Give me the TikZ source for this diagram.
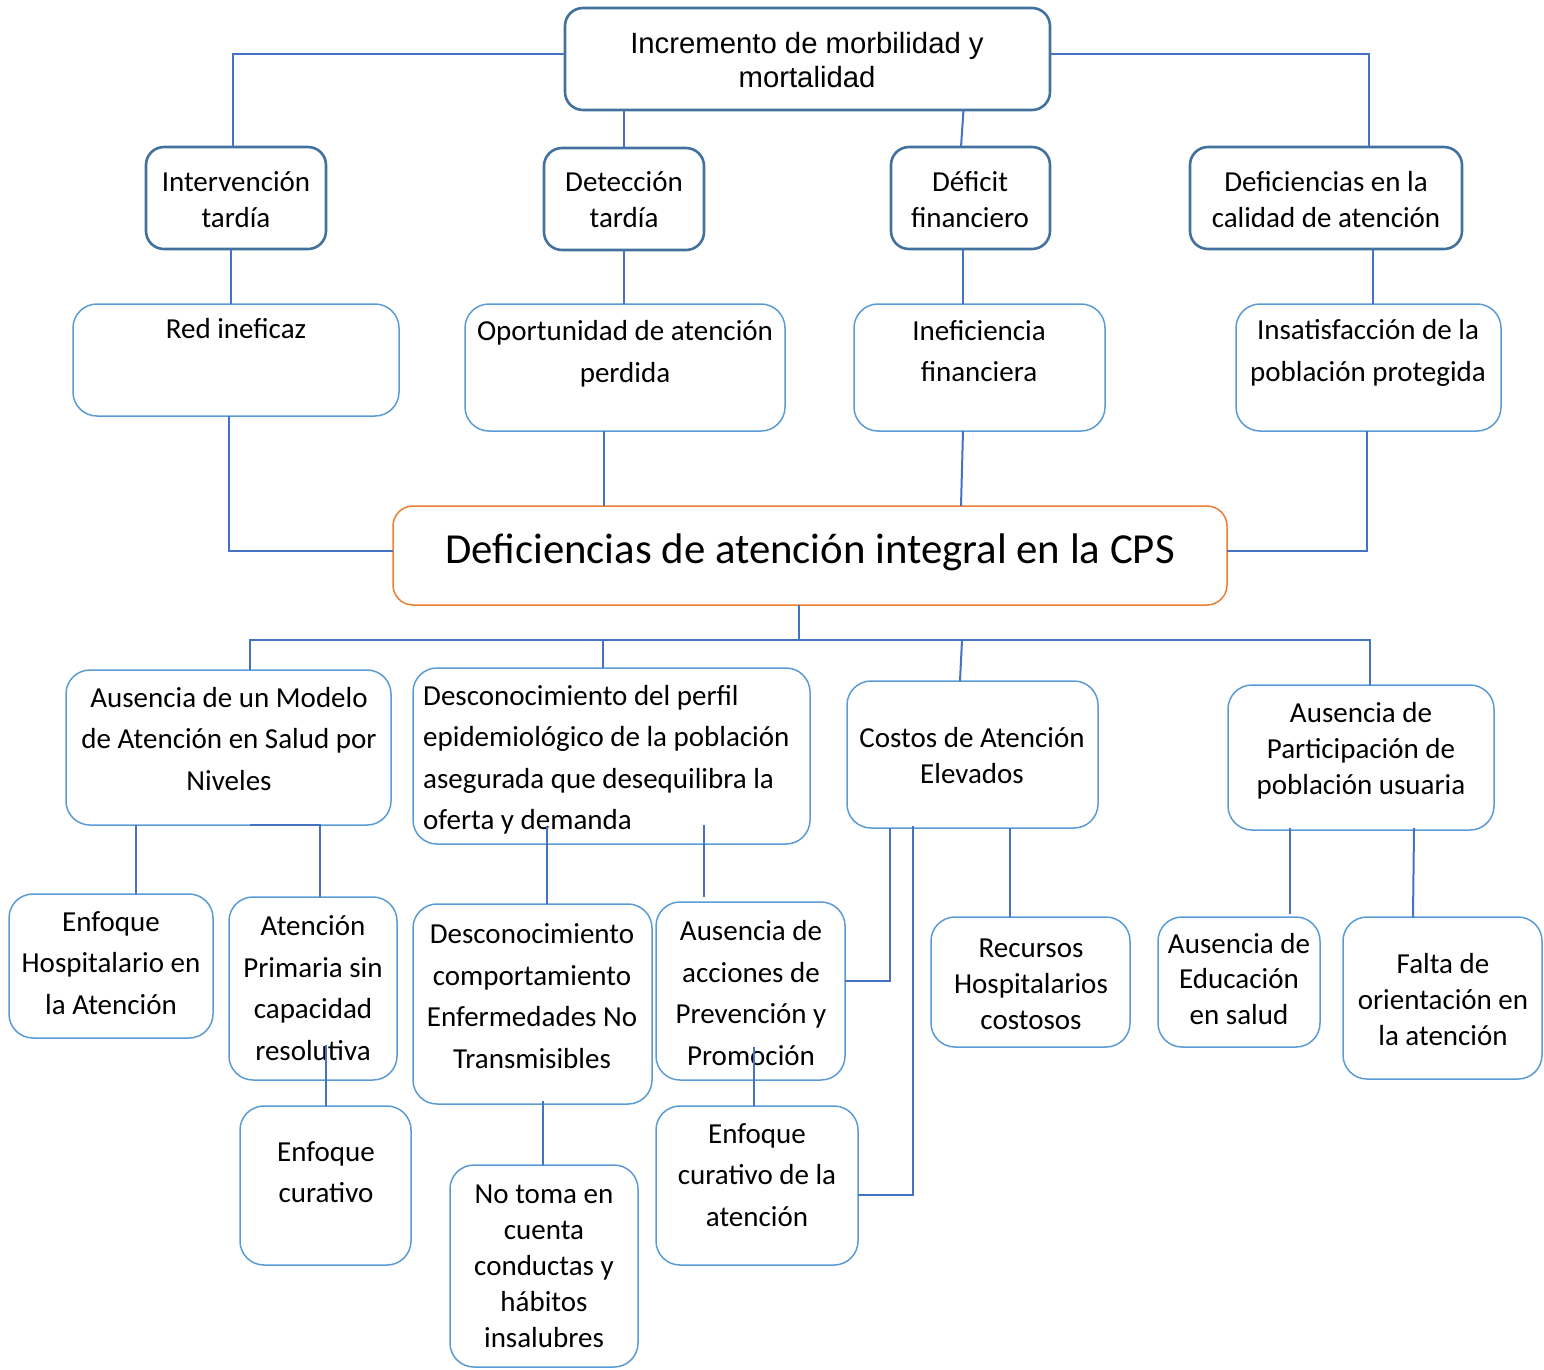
\documentclass[tikz,border=0pt]{standalone}
\usepackage{fontspec}
\setmainfont{Carlito}
\newfontfamily\arialf{Liberation Sans}
\usetikzlibrary{calc}
\definecolor{dkb}{HTML}{41719C}
\definecolor{ltb}{HTML}{5B9BD5}
\definecolor{cnb}{HTML}{4472C4}
\definecolor{org}{HTML}{ED7D31}
\tikzset{
  bxa/.style={draw=dkb, line width=2.6pt, rounded corners=18pt},
  bxb/.style={draw=ltb, line width=1.5pt, rounded corners=24pt},
  bxc/.style={draw=org, line width=1.5pt, rounded corners=20pt},
  conn/.style={draw=cnb, line width=2pt},
  txt/.style={font=\fontsize{29}{41.5}\selectfont, align=center, inner sep=0pt},
  txts/.style={font=\fontsize{29}{36}\selectfont, align=center, inner sep=0pt},
}
\newcommand\mybox[6]{\node[#1, anchor=north west, minimum width={(#5-#3)*1pt}, minimum height={(#6-#4)*1pt}, inner sep=0pt, outer sep=0pt] (#2) at (#3,#4) {};}
\begin{document}
\begin{tikzpicture}[x=1pt,y=-1pt]
\useasboundingbox (0,0) rectangle (1544,1369);
% boxes
\mybox{bxa}{top}{565}{8}{1050}{110}
\mybox{bxa}{int}{146}{147}{326}{249}
\mybox{bxa}{det}{544}{148}{704}{250}
\mybox{bxa}{def}{891}{147}{1050}{249}
\mybox{bxa}{cal}{1190}{147}{1462}{249}
\mybox{bxb}{redn}{73}{304}{399}{416}
\mybox{bxb}{opo}{465}{304}{785}{431}
\mybox{bxb}{inef}{854}{304}{1105}{431}
\mybox{bxb}{ins}{1236}{304}{1501}{431}
\mybox{bxc}{cps}{393}{506}{1227}{605}
\mybox{bxb}{mod}{66}{670}{391}{825}
\mybox{bxb}{perf}{413}{668}{810}{844}
\mybox{bxb}{cost}{847}{681}{1098}{828}
\mybox{bxb}{par}{1228}{685}{1494}{830}
\mybox{bxb}{enh}{9}{894}{213}{1038}
\mybox{bxb}{ap}{229}{897}{397}{1080}
\mybox{bxb}{enc}{240}{1106}{411}{1265}
\mybox{bxb}{dcom}{413}{904}{652}{1104}
\mybox{bxb}{nt}{450}{1165}{638}{1367}
\mybox{bxb}{aap}{656}{902}{845}{1080}
\mybox{bxb}{ecd}{656}{1106}{858}{1265}
\mybox{bxb}{rec}{931}{917}{1130}{1047}
\mybox{bxb}{edu}{1158}{917}{1320}{1047}
\mybox{bxb}{fal}{1343}{917}{1542}{1079}
% texts
\node[txt, font=\arialf\fontsize{29.3}{34}\selectfont] (t-top) at (807,60) {Incremento de morbilidad y\\mortalidad};
\node[txts] (t-int) at (236,200) {Intervención\\tardía};
\node[txts] (t-det) at (624,200) {Detección\\tardía};
\node[txts] (t-def) at (970,200) {Déficit\\financiero};
\node[txts] (t-cal) at (1326,200) {Deficiencias en la\\calidad de atención};
\node[txt] (t-red) at (236,329) {Red ineficaz};
\node[txt] (t-opo) at (625,354) {Oportunidad de atención\\perdida};
\node[txt] (t-inef) at (979,351) {Ineficiencia\\financiera};
\node[txt] (t-ins) at (1368,353) {Insatisfacción de la\\población protegida};
\node[txt, font=\fontsize{42.8}{50}\selectfont] (t-cps) at (810,552) {Deficiencias de atención integral en la CPS};
\node[txt] (t-mod) at (229,739) {Ausencia de un Modelo\\de Atención en Salud por\\Niveles};
\node[txt, align=left, anchor=west] (t-perf) at (423,760) {Desconocimiento del perfil\\epidemiológico de la población\\asegurada que desequilibra la\\oferta y demanda};
\node[txts] (t-cost) at (972,756) {Costos de Atención\\Elevados};
\node[txts] (t-par) at (1361,751) {Ausencia de\\Participación de\\población usuaria};
\node[txt] (t-enh) at (111,963) {Enfoque\\Hospitalario en\\la Atención};
\node[txt] (t-ap) at (313,988) {Atención\\Primaria sin\\capacidad\\resolutiva};
\node[txt] (t-enc) at (326,1172) {Enfoque\\curativo};
\node[txt] (t-dcom) at (532,996) {Desconocimiento\\comportamiento\\Enfermedades No\\Transmisibles};
\node[txts] (t-nt) at (544,1266) {No toma en\\cuenta\\conductas y\\hábitos\\insalubres};
\node[txt] (t-aap) at (751,993) {Ausencia de\\acciones de\\Prevención y\\Promoción};
\node[txt] (t-ecd) at (757,1175) {Enfoque\\curativo de la\\atención};
\node[txts] (t-rec) at (1031,984) {Recursos\\Hospitalarios\\costosos};
\node[txt, font=\fontsize{29}{35.5}\selectfont] (t-edu) at (1239,979) {Ausencia de\\Educación\\en salud};
\node[txts] (t-fal) at (1443,1000) {Falta de\\orientación en\\la atención};
% connectors
\draw[conn] ($(top.west)+(0,-5)$) -| ($(int.north)+(-3,0)$);
\draw[conn] (det.north) -- (det.north |- top.south);
\draw[conn] ($(def.north)+(-9.5,0)$) -- ($(top.south)+(156,0)$);
\draw[conn] ($(top.east)+(0,-5)$) -| ($(cal.north)+(43,0)$);
\draw[conn] ($(int.south)+(-5,0)$) -- ($(redn.north)+(-5,0)$);
\draw[conn] (det.south) -- (det.south |- opo.north);
\draw[conn] ($(def.south)+(-7.5,0)$) -- ($(inef.north)+(-16.5,0)$);
\draw[conn] ($(cal.south)+(47,0)$) -- ($(ins.north)+(4.5,0)$);
\draw[conn] ($(redn.south)+(-7,0)$) |- ($(cps.west)+(0,-5)$);
\draw[conn] ($(opo.south)+(-21,0)$) -- ($(cps.north)+(-206,0)$);
\draw[conn] ($(inef.south)+(-16.5,0)$) -- ($(cps.north)+(151,0)$);
\draw[conn] ($(ins.south)+(-1.5,0)$) |- ($(cps.east)+(0,-5)$);
\draw[conn] ($(cps.south)+(-11,0)$) -- ($(cps.south)+(-11,35)$);
\draw[conn] ($(mod.north)+(21.5,0)$) -- ($(mod.north)+(21.5,-30)$) -| ($(par.north)+(9,0)$);
\draw[conn] ($(perf.north)+(-8.5,0)$) -- ($(perf.north)+(-8.5,-28)$);
\draw[conn] ($(cost.north)+(-12.5,0)$) -- ($(cost.north)+(-10.5,-41)$);
\draw[conn] ($(mod.south)+(-92.5,0)$) -- ($(enh.north)+(25,0)$);
\draw[conn] ($(mod.south)+(21.5,0)$) -| ($(ap.north)+(7,0)$);
\draw[conn] (enc.north) -- ($(enc.north)+(0,-61)$);
\draw[conn] ($(dcom.north)+(14.5,0)$) -- ($(dcom.north)+(14.5,-77)$);
\draw[conn] ($(aap.north)+(-46.5,-5)$) -- ($(aap.north)+(-46.5,-77)$);
\draw[conn] ($(nt.north)+(-1,0)$) -- ($(nt.north)+(-1,-64)$);
\draw[conn] ($(ecd.north)+(-3,0)$) -- ($(ecd.north)+(-3,-59)$);
\draw[conn] ($(cost.south)+(-82.5,0)$) |- ($(aap.east)+(0,-10)$);
\draw[conn] ($(cost.south)+(-59.5,-2)$) |- ($(ecd.east)+(0,9.5)$);
\draw[conn] ($(cost.south)+(37.5,0)$) -- ($(rec.north)+(-20.5,0)$);
\draw[conn] ($(par.south)+(-71,-2)$) -- ($(edu.north)+(51,-3)$);
\draw[conn] ($(par.south)+(53,-2)$) -- ($(fal.north)+(-29.5,0)$);
\end{tikzpicture}
\end{document}
